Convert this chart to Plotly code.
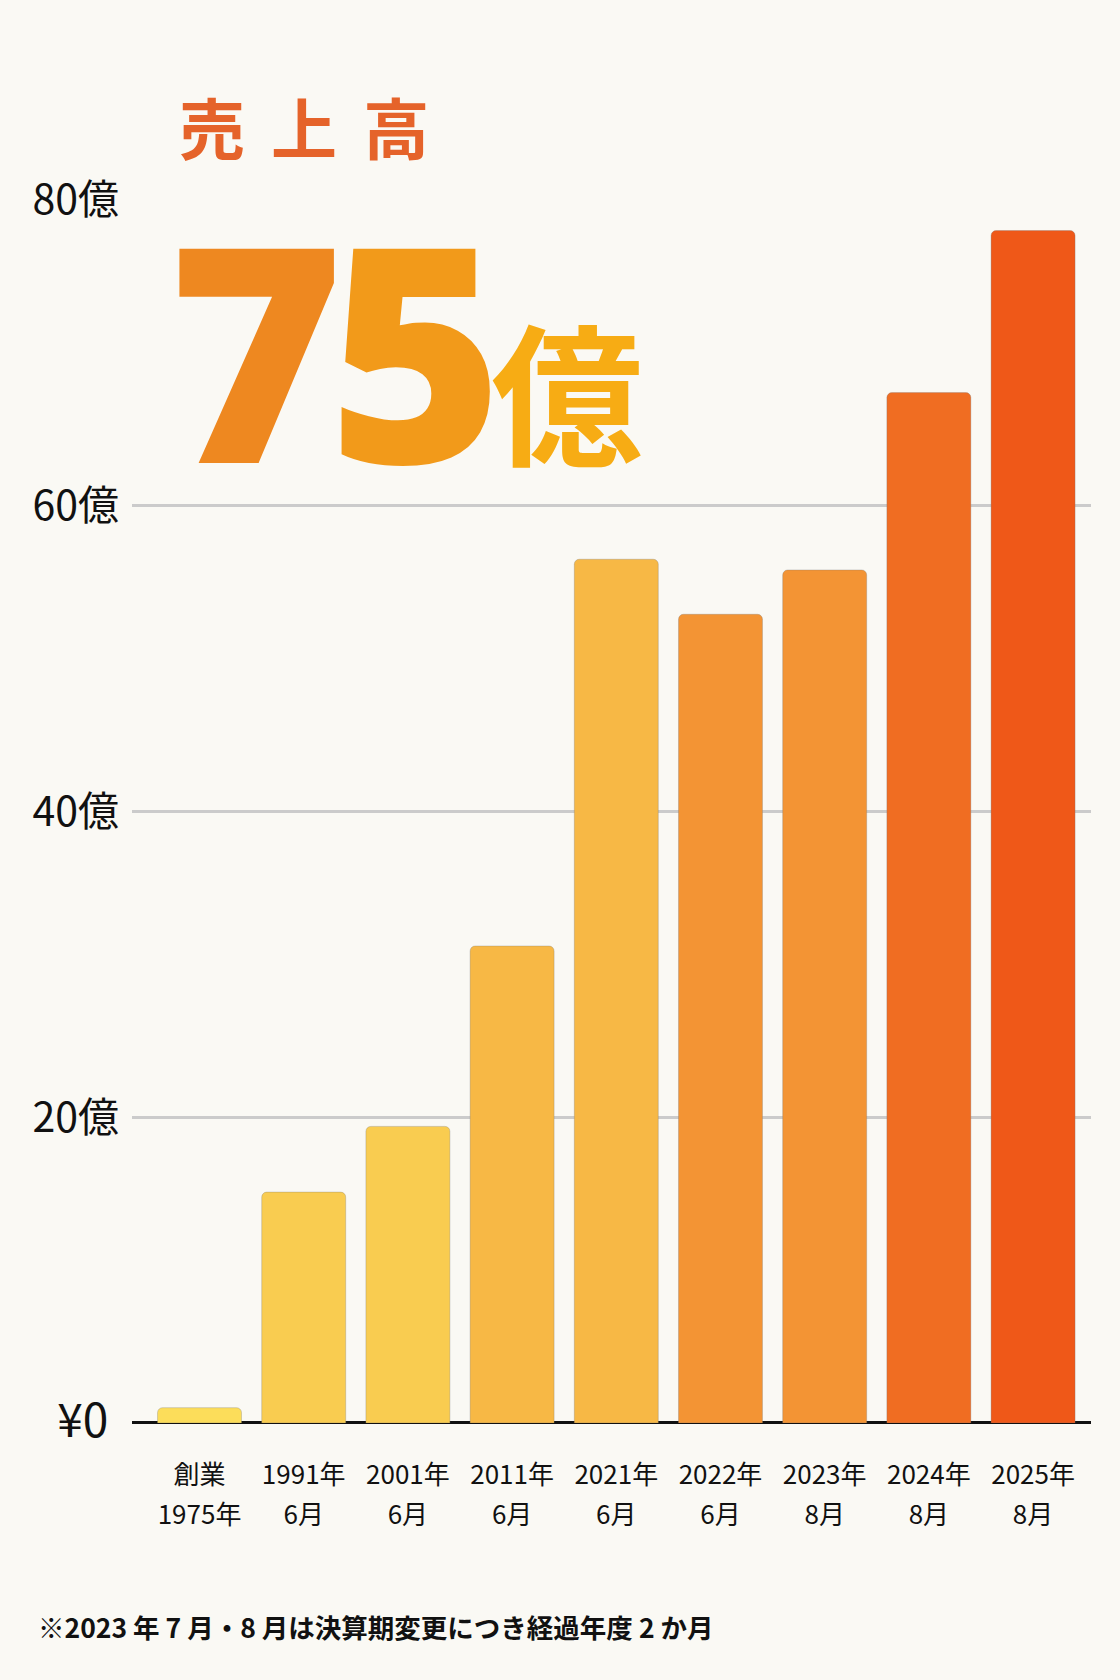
import plotly.graph_objects as go

# 売上高の推移（億円）
label_top = ["創業", "1991年", "2001年", "2011年", "2021年", "2022年", "2023年", "2024年", "2025年"]
label_bottom = ["1975年", "6月", "6月", "6月", "6月", "6月", "8月", "8月", "8月"]
sales = [1.0, 15.1, 19.4, 31.2, 56.5, 52.9, 55.8, 67.4, 78.0]
y_ticks = [0, 20, 40, 60, 80]
y_labels = ["<span style='font-size:46px'>¥0</span>\u2009\u200a", "20億", "40億", "60億", "80億"]

bar_colors = ["#FCDD5A", "#F9CC50", "#F9CC50", "#F7B845", "#F7B845",
              "#F39434", "#F39434", "#F06D22", "#EF5818"]

xpos = list(range(len(sales)))
x_range = [-0.648, 8.556]
jp = "Noto Sans CJK JP"
tick_font = dict(family=jp, size=26, color="#111111")

fig = go.Figure()
fig.add_trace(go.Bar(
    x=xpos, y=sales, width=0.806,
    marker=dict(color=bar_colors, line=dict(color="rgba(120,120,120,0.3)", width=1)),
    hoverinfo="skip",
))
# 2段目のラベル用（見えないトレース）
fig.add_trace(go.Scatter(x=xpos, y=sales, xaxis="x2", mode="markers",
                         marker=dict(opacity=0), hoverinfo="skip"))

fig.update_layout(
    width=1120, height=1680,
    margin=dict(l=132, r=29, t=200, b=100),
    paper_bgcolor="#FAF9F4", plot_bgcolor="#FAF9F4",
    showlegend=False,
    barcornerradius=5,
    xaxis=dict(range=x_range, tickvals=xpos, ticktext=label_top, showgrid=False,
               zeroline=False, showline=False, ticks="", ticklabelstandoff=34,
               tickfont=tick_font, fixedrange=True),
    xaxis2=dict(overlaying="x", anchor="free", position=0.0848, side="bottom",
                range=x_range, tickvals=xpos, ticktext=label_bottom, showgrid=False,
                zeroline=False, showline=False, ticks="", ticklabelstandoff=34,
                tickfont=tick_font, fixedrange=True),
    yaxis=dict(domain=[0.1138, 1], range=[0, 80], tickvals=y_ticks, ticktext=y_labels,
               showgrid=True, gridcolor="#CBCBCB", gridwidth=2.5,
               zeroline=True, zerolinecolor="#111111", zerolinewidth=2.5,
               ticks="", ticklabelstandoff=12,
               tickfont=dict(family=jp, size=41, color="#111111"), fixedrange=True),
)

# タイトル
fig.add_annotation(text="<b>売\u2004\u200a上\u2004\u200a高</b>", xref="paper", yref="paper",
                   x=0.047, y=1.054, xanchor="left", yanchor="middle", showarrow=False,
                   font=dict(family=jp, size=66, color="#E5632A"))

# 大きな数字
num_style = "color:{};letter-spacing:{}px"
fig.add_annotation(text="<span style='" + num_style.format("#EE8820", -16) + "'>7</span>"
                        "<span style='" + num_style.format("#F29A1A", 0) + "'>5</span>",
                   xref="paper", yref="paper", x=0.0355, y=0.8935,
                   xanchor="left", yanchor="middle", showarrow=False,
                   font=dict(family="Noto Sans", size=300, color="#F09020", weight=900))
fig.add_annotation(text="<b>億</b>", xref="paper", yref="paper", x=0.372, y=0.8635,
                   xanchor="left", yanchor="middle", showarrow=False,
                   font=dict(family=jp, size=152, color="#F7AC14", weight=900))

# 注記
fig.add_annotation(text="<b>※2023 年 7 月・8 月は決算期変更につき経過年度 2 か月</b>",
                   xref="paper", yref="paper", x=-0.1, y=-0.034,
                   xanchor="left", yanchor="middle", showarrow=False,
                   font=dict(family=jp, size=26.5, color="#111111"))

fig.write_html("out.html", config={"displayModeBar": False},
               post_script="document.body.style.margin='0px';")
